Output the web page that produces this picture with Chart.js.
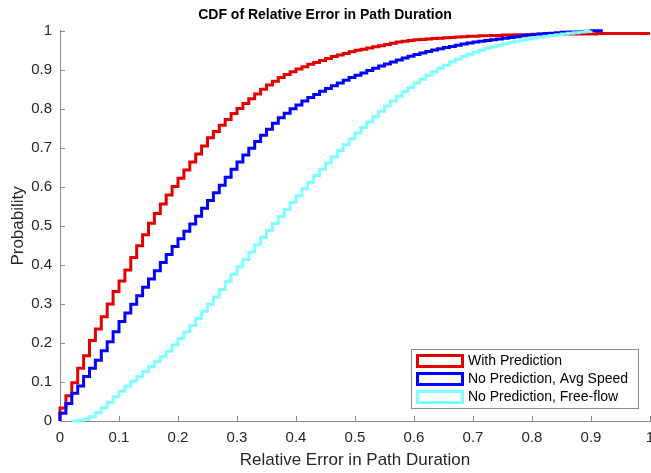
<!DOCTYPE html>
<html>
<head>
<meta charset="utf-8">
<script src="https://cdn.jsdelivr.net/npm/chart.js@4/dist/chart.umd.min.js"></script>
<style>
  html, body { margin: 0; padding: 0; background: #fff; }
  #wrap { width: 651px; height: 473px; }
</style>
</head>
<body>
<div id="wrap"><canvas id="cdf" width="651" height="473"></canvas></div>
<script>
// CDF of relative error in path duration.
// Error values are binned at 0.01, so every series is a stair over binEdges.

const binEdges = [
  0.00, 0.01, 0.02, 0.03, 0.04, 0.05, 0.06, 0.07, 0.08, 0.09,
  0.10, 0.11, 0.12, 0.13, 0.14, 0.15, 0.16, 0.17, 0.18, 0.19,
  0.20, 0.21, 0.22, 0.23, 0.24, 0.25, 0.26, 0.27, 0.28, 0.29,
  0.30, 0.31, 0.32, 0.33, 0.34, 0.35, 0.36, 0.37, 0.38, 0.39,
  0.40, 0.41, 0.42, 0.43, 0.44, 0.45, 0.46, 0.47, 0.48, 0.49,
  0.50, 0.51, 0.52, 0.53, 0.54, 0.55, 0.56, 0.57, 0.58, 0.59,
  0.60, 0.61, 0.62, 0.63, 0.64, 0.65, 0.66, 0.67, 0.68, 0.69,
  0.70, 0.71, 0.72, 0.73, 0.74, 0.75, 0.76, 0.77, 0.78, 0.79,
  0.80, 0.81, 0.82, 0.83, 0.84, 0.85, 0.86, 0.87, 0.88, 0.89,
  0.90, 0.91, 0.92, 0.93, 0.94, 0.95, 0.96, 0.97, 0.98, 0.99,
  1.00,
];

const withPrediction = [
  0.033, 0.065, 0.098, 0.135, 0.167, 0.206, 0.236, 0.267, 0.300, 0.332,
  0.359, 0.387, 0.419, 0.449, 0.477, 0.507, 0.532, 0.556, 0.579, 0.601,
  0.622, 0.643, 0.664, 0.684, 0.705, 0.726, 0.742, 0.758, 0.773, 0.788,
  0.801, 0.814, 0.826, 0.838, 0.850, 0.861, 0.871, 0.880, 0.888, 0.895,
  0.902, 0.908, 0.914, 0.919, 0.924, 0.929, 0.934, 0.938, 0.942, 0.946,
  0.950, 0.953, 0.956, 0.959, 0.962, 0.965, 0.968, 0.971, 0.973, 0.975,
  0.977, 0.978, 0.979, 0.980, 0.981, 0.982, 0.983, 0.984, 0.985, 0.986,
  0.986, 0.987, 0.987, 0.988, 0.988, 0.989, 0.989, 0.990, 0.990, 0.990,
  0.991, 0.991, 0.991, 0.991, 0.992, 0.992, 0.992, 0.992, 0.992, 0.992,
  0.992, 0.993, 0.993, 0.993, 0.993, 0.993, 0.993, 0.993, 0.993, 0.993,
  0.993,
];

const avgSpeed = [
  0.020, 0.045, 0.071, 0.090, 0.114, 0.135, 0.156, 0.180, 0.203, 0.229,
  0.255, 0.277, 0.299, 0.321, 0.343, 0.364, 0.385, 0.406, 0.427, 0.447,
  0.467, 0.486, 0.505, 0.525, 0.545, 0.565, 0.585, 0.604, 0.625, 0.645,
  0.664, 0.682, 0.699, 0.716, 0.732, 0.748, 0.763, 0.777, 0.789, 0.800,
  0.810, 0.820, 0.829, 0.837, 0.845, 0.852, 0.859, 0.866, 0.873, 0.880,
  0.886, 0.892, 0.898, 0.904, 0.910, 0.915, 0.920, 0.925, 0.930, 0.935,
  0.939, 0.943, 0.947, 0.951, 0.954, 0.957, 0.960, 0.963, 0.966, 0.969,
  0.971, 0.973, 0.975, 0.977, 0.979, 0.981, 0.983, 0.985, 0.987, 0.989,
  0.990, 0.992, 0.993, 0.994, 0.995, 0.996, 0.997, 0.997, 0.998, 0.999,
  1.000, 1.000, 1.000,
];

const freeFlow = [
  null,  null,  0.000, 0.002, 0.005, 0.011, 0.022, 0.034, 0.048, 0.062,
  0.076, 0.089, 0.102, 0.114, 0.126, 0.139, 0.152, 0.165, 0.179, 0.195,
  0.211, 0.228, 0.245, 0.263, 0.281, 0.299, 0.318, 0.337, 0.357, 0.376,
  0.395, 0.414, 0.433, 0.452, 0.470, 0.488, 0.506, 0.524, 0.542, 0.560,
  0.577, 0.595, 0.612, 0.629, 0.645, 0.661, 0.677, 0.693, 0.708, 0.723,
  0.738, 0.752, 0.766, 0.780, 0.794, 0.807, 0.820, 0.832, 0.844, 0.855,
  0.866, 0.876, 0.886, 0.895, 0.904, 0.912, 0.920, 0.927, 0.934, 0.940,
  0.945, 0.950, 0.955, 0.959, 0.963, 0.967, 0.970, 0.973, 0.976, 0.979,
  0.982, 0.984, 0.986, 0.988, 0.990, 0.992, 0.994, 0.995, 0.997, 0.998,
  1.000,
];

const seriesLabels = ['With Prediction', 'No Prediction, Avg Speed', 'No Prediction, Free-flow'];
const seriesColors = ['rgb(228,0,0)', '#0000ff', '#80ffff'];
const tickValues = [0, 0.1, 0.2, 0.3, 0.4, 0.5, 0.6, 0.7, 0.8, 0.9, 1];
const tickLabels = ['0', '0.1', '0.2', '0.3', '0.4', '0.5', '0.6', '0.7', '0.8', '0.9', '1'];

const FONT = "'Liberation Sans', Arial, Helvetica, sans-serif";
const AXIS_GREY = '#8a8a8a';
const INK = '#262626';

// stairs start from 0 at the first observed bin, like cdfplot
function cdfPoints(vals) {
  const pts = [];
  vals.forEach((y, i) => {
    if (y === null) return;
    if (!pts.length) pts.push({ x: binEdges[i], y: 0 });
    pts.push({ x: binEdges[i], y });
  });
  return pts;
}

// MATLAB-ish look: inward tick marks + boxed legend in the lower right
const matlabAxes = {
  id: 'matlabAxes',
  beforeDatasetsDraw(chart) {
    const { ctx, chartArea: a, scales: { x, y } } = chart;
    ctx.save();
    ctx.strokeStyle = AXIS_GREY;
    ctx.lineWidth = 1;
    ctx.beginPath();
    tickValues.forEach(v => {
      const px = Math.round(x.getPixelForValue(v)) + 0.5;
      ctx.moveTo(px, a.bottom);
      ctx.lineTo(px, a.bottom - 5);
      const py = Math.round(y.getPixelForValue(v)) + 0.5;
      ctx.moveTo(a.left, py);
      ctx.lineTo(a.left + 5, py);
    });
    ctx.stroke();
    ctx.restore();
  },
  afterDraw(chart) {
    const { ctx, chartArea: a } = chart;
    const w = 227, h = 59;
    const bx = a.right - 12 - w, by = a.bottom - 13 - h;
    ctx.save();
    ctx.fillStyle = '#fff';
    ctx.fillRect(bx, by, w, h);
    ctx.strokeStyle = AXIS_GREY;
    ctx.lineWidth = 1;
    ctx.strokeRect(bx + 0.5, by + 0.5, w, h);
    ctx.font = '14px ' + FONT;
    ctx.textBaseline = 'middle';
    chart.data.datasets.forEach((ds, i) => {
      const ry = by + 5 + i * 18;
      ctx.strokeStyle = ds.borderColor;
      ctx.lineWidth = 3;
      ctx.strokeRect(bx + 6.5, ry + 1.5, 45, 11);
      ctx.fillStyle = '#000';
      ctx.fillText(ds.label, bx + 57, ry + 7.5);
    });
    ctx.restore();
  },
};

const seriesValues = [withPrediction, avgSpeed, freeFlow];
const tickText = (v) => tickLabels[tickValues.findIndex(t => Math.abs(t - v) < 1e-9)] ?? '';

new Chart(document.getElementById('cdf'), {
  type: 'line',
  data: {
    datasets: seriesValues.map((vals, i) => ({
      label: seriesLabels[i],
      data: cdfPoints(vals),
      borderColor: seriesColors[i],
      backgroundColor: seriesColors[i],
      borderWidth: 3,
      pointRadius: 0,
      stepped: true,
      fill: false,
      clip: 6,
      order: 3 - i, // later series drawn on top, like MATLAB hold on
    })),
  },
  options: {
    responsive: false,
    animation: false,
    devicePixelRatio: 1,
    layout: { padding: { left: 0, right: 1, top: 0, bottom: 0 } },
    plugins: {
      legend: { display: false },
      tooltip: { enabled: false },
      title: {
        display: true,
        text: 'CDF of Relative Error in Path Duration',
        color: '#000',
        font: { family: FONT, size: 14, weight: 'bold' },
        padding: { top: 7, bottom: 7 },
      },
    },
    scales: {
      x: {
        type: 'linear', min: 0, max: 1,
        afterFit: s => { s.height = 52; s.paddingLeft = 0; s.paddingRight = 0; },
        afterBuildTicks: s => { s.ticks = tickValues.map(v => ({ value: v })); },
        grid: { display: false, drawTicks: false },
        border: { display: true, color: AXIS_GREY, width: 1 },
        ticks: { color: INK, padding: 8, maxRotation: 0, font: { family: FONT, size: 15 }, callback: tickText },
        title: {
          display: true, text: 'Relative Error in Path Duration', color: INK,
          font: { family: FONT, size: 17 }, padding: { top: 0, bottom: 2 },
        },
      },
      y: {
        type: 'linear', min: 0, max: 1,
        afterFit: s => { s.width = 60; s.paddingTop = 0; s.paddingBottom = 0; },
        afterBuildTicks: s => { s.ticks = tickValues.map(v => ({ value: v })); },
        grid: { display: false, drawTicks: false },
        border: { display: true, color: AXIS_GREY, width: 1 },
        ticks: { color: INK, padding: 8, font: { family: FONT, size: 15 }, callback: tickText },
        title: {
          display: true, text: 'Probability', color: INK,
          font: { family: FONT, size: 17 }, padding: { top: 8, bottom: 0 },
        },
      },
    },
  },
  plugins: [matlabAxes],
});
</script>
</body>
</html>
